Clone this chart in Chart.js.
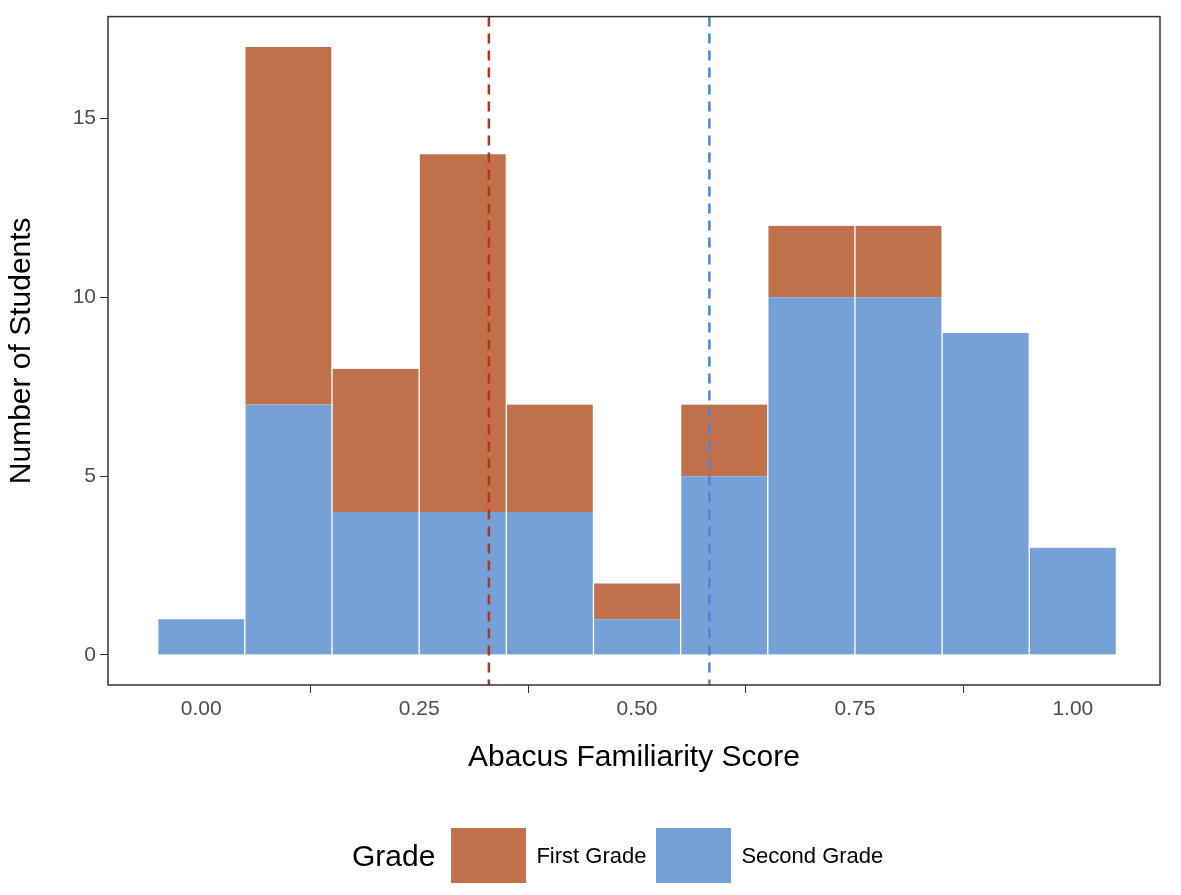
<!DOCTYPE html>
<html>
<head>
<meta charset="utf-8">
<script src="https://cdn.jsdelivr.net/npm/chart.js@4"></script>
<style>
  body { margin: 0; background: #fff; font-family: "Liberation Sans", Arial, sans-serif; }
  #wrap { position: relative; width: 1181px; height: 895px; }
  #legend { position: absolute; left: 352px; top: 828px; display: flex; align-items: center; color: #000; }
  .key { width: 75px; height: 55px; display: inline-block; }
  .lab { font-size: 22px; margin: 0 10px 0 10px; }
</style>
</head>
<body>
<div id="wrap">
  <canvas id="hist" width="1181" height="895"></canvas>
  <div id="legend">
    <span style="font-size:30px;margin-right:16px">Grade</span>
    <span class="key" style="background:#C0704A"></span><span class="lab">First Grade</span>
    <span class="key" style="background:#76A1D6"></span><span class="lab">Second Grade</span>
  </div>
</div>
<script>
// bin centres and counts per grade
const binCenters = [0, 0.1, 0.2, 0.3, 0.4, 0.5, 0.6, 0.7, 0.8, 0.9, 1.0];
const secondGrade = [1, 7, 4, 4, 4, 1, 5, 10, 10, 9, 3];
const firstGrade = [0, 10, 4, 10, 3, 1, 2, 2, 2, 0, 0];
const meanLines = [
    { x: 0.33, color: '#B2361C' },
    { x: 0.583, color: '#4A86D8' }
];
const xTicks = [0, 0.25, 0.5, 0.75, 1.0];
const yTicks = [0, 5, 10, 15];

const tickColor = '#4d4d4d';

// dashed mean lines + panel border
const extras = {
    id: 'extras',
    afterDatasetsDraw(chart) {
        const ctx = chart.ctx;
        const a = chart.chartArea;
        const xs = chart.scales.x;
        ctx.save();
        ctx.lineWidth = 2.5;
        ctx.setLineDash([10, 7]);
        meanLines.forEach(m => {
            const px = xs.getPixelForValue(m.x);
            ctx.strokeStyle = m.color;
            ctx.beginPath();
            ctx.moveTo(px, a.top);
            ctx.lineTo(px, a.bottom);
            ctx.stroke();
        });
        ctx.setLineDash([]);
        ctx.strokeStyle = '#333';
        ctx.lineWidth = 1.5;
        ctx.strokeRect(a.left, a.top, a.right - a.left, a.bottom - a.top);
        ctx.restore();
    }
};

new Chart(document.getElementById('hist').getContext('2d'), {
    type: 'bar',
    data: {
        datasets: [{
            label: 'Second Grade',
            data: binCenters.map((x, i) => ({ x: x, y: secondGrade[i] })),
            backgroundColor: '#76A1D6',
            borderColor: 'rgba(255,255,255,0.25)',
            borderWidth: { left: 1, right: 1 },
            barPercentage: 1,
            categoryPercentage: 1
        }, {
            label: 'First Grade',
            data: binCenters.map((x, i) => ({ x: x, y: firstGrade[i] })),
            backgroundColor: '#C0704A',
            borderColor: 'rgba(255,255,255,0.25)',
            borderWidth: { left: 1, right: 1 },
            barPercentage: 1,
            categoryPercentage: 1
        }]
    },
    options: {
        responsive: false,
        animation: false,
        layout: { padding: { left: 0, right: 21, top: 15, bottom: 115 } },
        plugins: { legend: { display: false }, tooltip: { enabled: false } },
        scales: {
            x: {
                type: 'linear',
                stacked: true,
                offset: false,
                min: -0.107,
                max: 1.1,
                afterBuildTicks: s => { s.ticks = xTicks.map(v => ({ value: v })); },
                afterFit: s => { s.height = 95; },
                ticks: { color: tickColor, font: { size: 21 }, callback: v => v.toFixed(2), padding: 4 },
                grid: { drawOnChartArea: false, tickLength: 8, color: '#333' },
                border: { display: false },
                title: { display: true, text: 'Abacus Familiarity Score', color: '#000', font: { size: 30 }, padding: { top: 8 } }
            },
            y: {
                stacked: true,
                min: -0.84,
                max: 17.85,
                afterBuildTicks: s => { s.ticks = yTicks.map(v => ({ value: v })); },
                afterFit: s => { s.width = 108; },
                ticks: { color: tickColor, font: { size: 21 }, padding: 4 },
                grid: { drawOnChartArea: false, tickLength: 8, color: '#333' },
                border: { display: false },
                title: { display: true, text: 'Number of Students', color: '#000', font: { size: 30 }, padding: { bottom: 6 } }
            }
        }
    },
    plugins: [extras]
});
</script>
</body>
</html>
